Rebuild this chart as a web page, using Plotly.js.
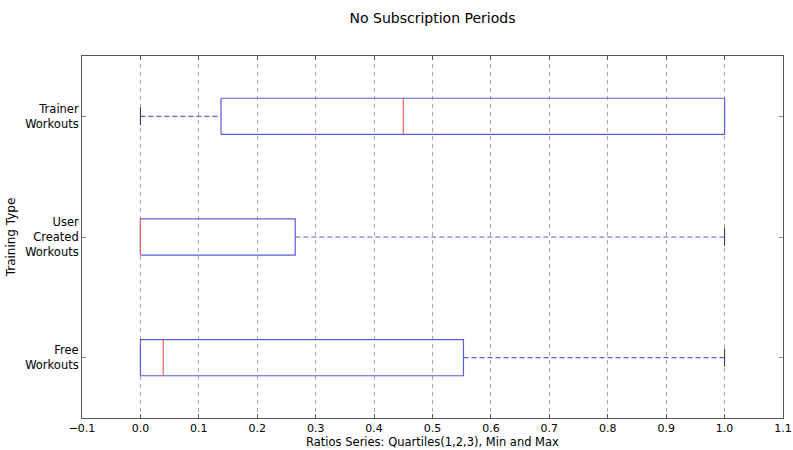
<!DOCTYPE html>
<html><head><meta charset="utf-8">
<script src="https://cdn.plot.ly/plotly-3.0.1.min.js"></script>
<style>html,body{margin:0;padding:0;background:#fff}</style>
</head><body><div id="chart" style="width:793px;height:450px"></div>
<script>
// Data (bottom to top)
const categories = ["Free<br>Workouts", "User<br>Created<br>Workouts", "Trainer<br>Workouts"];
const minVals    = [0.0, 0.0, 0.0];
const q1Vals     = [0.0, 0.0, 0.138];
const medianVals = [0.039, 0.0, 0.45];
const q3Vals     = [0.553, 0.265, 1.0];
const maxVals    = [1.0, 1.0, 1.0];
const xTickVals  = [-0.1,0,0.1,0.2,0.3,0.4,0.5,0.6,0.7,0.8,0.9,1.0,1.1];
const xTickText  = ["\u22120.1","0.0","0.1","0.2","0.3","0.4","0.5","0.6","0.7","0.8","0.9","1.0","1.1"];

const half = 0.15, capHalf = 0.075;
const boxColor = "#5c5cdc", medColor = "#e86060", capColor = "#333333";
const traces = [];
categories.forEach((c, i) => {
  const y = i + 1;
  traces.push({type:"scatter", mode:"lines", x:[minVals[i], q1Vals[i]], y:[y,y],
    line:{color:boxColor, width:1.2, dash:"5px,3px"}, hoverinfo:"skip", showlegend:false});
  traces.push({type:"scatter", mode:"lines", x:[q3Vals[i], maxVals[i]], y:[y,y],
    line:{color:boxColor, width:1.2, dash:"5px,3px"}, hoverinfo:"skip", showlegend:false});
  [minVals[i], maxVals[i]].forEach(v => traces.push({type:"scatter", mode:"lines",
    x:[v,v], y:[y-capHalf, y+capHalf], line:{color:capColor, width:1}, hoverinfo:"skip", showlegend:false}));
  traces.push({type:"scatter", mode:"lines",
    x:[q1Vals[i], q3Vals[i], q3Vals[i], q1Vals[i], q1Vals[i]],
    y:[y-half, y-half, y+half, y+half, y-half],
    line:{color:boxColor, width:1.2}, hoverinfo:"skip", showlegend:false});
  traces.push({type:"scatter", mode:"lines", x:[medianVals[i], medianVals[i]], y:[y-half, y+half],
    line:{color:medColor, width:1.2}, hoverinfo:"skip", showlegend:false});
});

const layout = {
  width:793, height:450,
  margin:{l:82, r:10, t:56, b:32},
  paper_bgcolor:"#fff", plot_bgcolor:"#fff",
  font:{family:"DejaVu Sans, sans-serif", size:11, color:"#000"},
  title:{text:"No Subscription Periods", x:0.5, xref:"paper", y:0.96, yanchor:"middle",
    font:{family:"DejaVu Sans", size:14, color:"#000"}},
  xaxis:{range:[-0.1,1.1], tickvals:xTickVals, ticktext:xTickText, ticks:"inside", ticklen:4,
    tickcolor:"#555", showgrid:true, gridcolor:"#aaaaaa", griddash:"4px,4px", gridwidth:1,
    zeroline:false, showline:true, linecolor:"#555", linewidth:1, mirror:"ticks",
    ticklabeloverflow:"allow",
    title:{text:"Ratios Series: Quartiles(1,2,3), Min and Max", standoff:3,
      font:{family:"DejaVu Sans", size:11.5}},
    tickfont:{family:"DejaVu Sans", size:11}},
  yaxis:{range:[0.5,3.5], tickvals:[1,2,3], ticktext:categories, ticks:"inside", ticklen:4,
    tickcolor:"#888", showgrid:false, zeroline:false, showline:true, linecolor:"#555", linewidth:1,
    mirror:"ticks", title:{text:"Training Type", standoff:6, font:{size:12}}, tickfont:{size:11.5}}
};
Plotly.newPlot("chart", traces, layout, {staticPlot:true, displayModeBar:false});
</script></body></html>
